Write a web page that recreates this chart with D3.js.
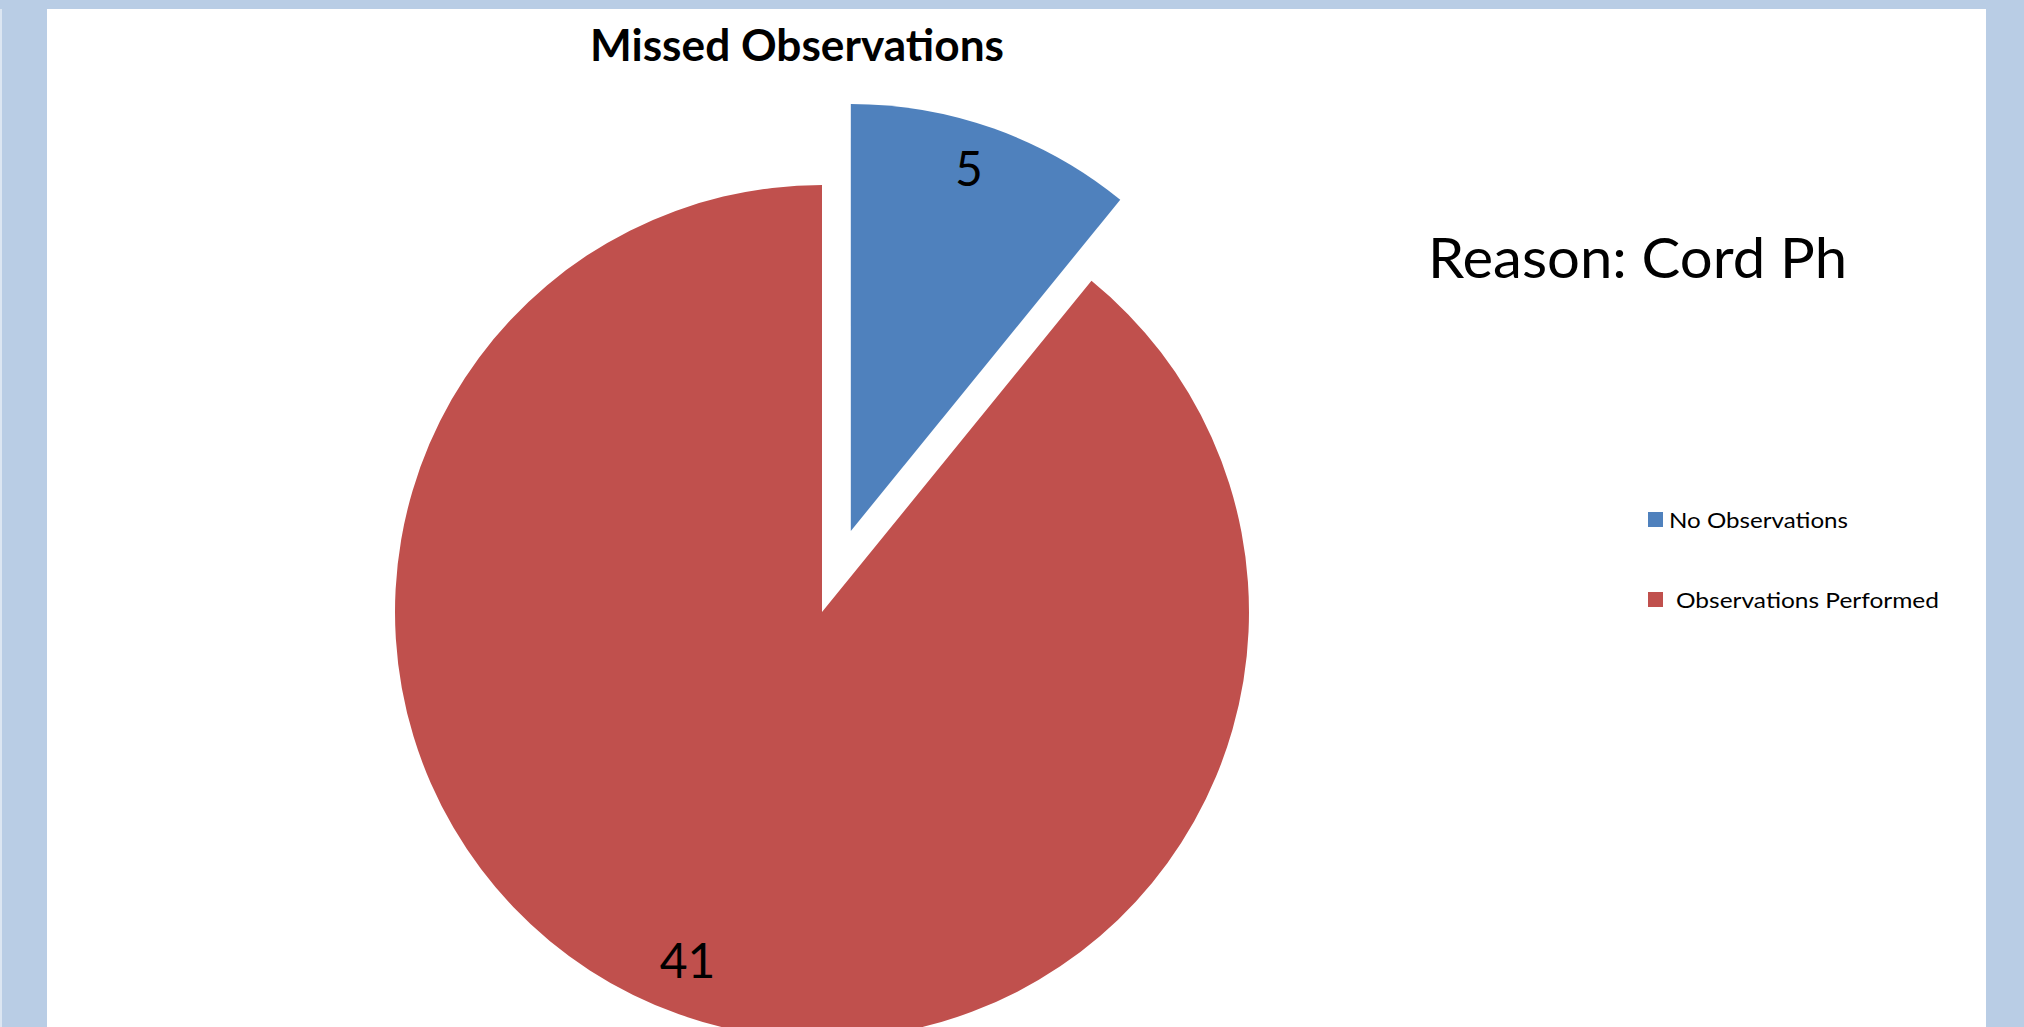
<!DOCTYPE html>
<html>
<head>
<meta charset="utf-8">
<script src="https://cdn.jsdelivr.net/npm/d3@7"></script>
<style>
  html, body { margin: 0; padding: 0; background: #B9CDE5; overflow: hidden; }
  svg { display: block; }
</style>
</head>
<body>
<svg id="chart" width="2024" height="1027"></svg>
<script>
// Chart data
const categories = ["No Observations", "Observations Performed"];
const values = [5, 41];
const sliceColors = ["#4F81BD", "#C0504D"];
const explode = [true, false];
const chartTitle = "Missed Observations";
const noteText = "Reason: Cord Ph";

const W = 2024, H = 1027;
const svg = d3.select("#chart");
const FONT = "Lato, 'Open Sans', sans-serif";

// Page frame: light blue surround with white chart area
svg.append("rect").attr("x", 0).attr("y", 0).attr("width", W).attr("height", H).attr("fill", "#B9CDE5");
svg.append("rect").attr("x", 0).attr("y", 9).attr("width", 2).attr("height", H - 9).attr("fill", "#DCE6F2");
svg.append("rect").attr("x", 47).attr("y", 9).attr("width", 1939).attr("height", H - 9).attr("fill", "#FFFFFF");

// Pie geometry
const cx = 822, cy = 612, radius = 427, explodeDist = 86;

const pie = d3.pie().sort(null).value(d => d.value);
const arcs = pie(categories.map((c, i) => ({ name: c, value: values[i], color: sliceColors[i], explode: explode[i] })));

const arcGen = d3.arc().innerRadius(0).outerRadius(radius);
const labelArc = d3.arc().innerRadius(377).outerRadius(377);

const pieG = svg.append("g").attr("transform", `translate(${cx},${cy})`);

const sliceG = pieG.selectAll("g.slice")
  .data(arcs)
  .join("g")
  .attr("class", "slice")
  .attr("transform", d => {
    if (!d.data.explode) return null;
    const mid = (d.startAngle + d.endAngle) / 2;
    return `translate(${explodeDist * Math.sin(mid)},${-explodeDist * Math.cos(mid)})`;
  });

sliceG.append("path")
  .attr("d", arcGen)
  .attr("fill", d => d.data.color);

// Data labels near the outer edge of each slice
sliceG.append("text")
  .attr("transform", d => `translate(${labelArc.centroid(d)})`)
  .attr("text-anchor", "middle")
  .attr("dx", "-0.17em")
  .attr("dy", "0.22em")
  .attr("font-family", FONT)
  .attr("font-size", 48)
  .attr("fill", "#000")
  .text(d => d.data.value);

// Title
svg.append("text")
  .attr("x", 797).attr("y", 61)
  .attr("text-anchor", "middle")
  .attr("font-family", FONT)
  .attr("font-weight", "bold")
  .attr("font-size", 43)
  .attr("textLength", 414)
  .attr("lengthAdjust", "spacingAndGlyphs")
  .attr("fill", "#000")
  .text(chartTitle);

// Side note
svg.append("text")
  .attr("x", 1428).attr("y", 278)
  .attr("font-family", FONT)
  .attr("font-size", 56)
  .attr("textLength", 419)
  .attr("lengthAdjust", "spacingAndGlyphs")
  .attr("fill", "#000")
  .text(noteText);

// Legend
const legendX = 1648, legendY0 = 512, legendStep = 80, sw = 15;
const textX = [1669, 1676];
const textW = [179, 263];
const legend = svg.append("g").selectAll("g")
  .data(categories)
  .join("g")
  .attr("transform", (d, i) => `translate(${legendX},${legendY0 + i * legendStep})`);

legend.append("rect")
  .attr("width", sw).attr("height", sw)
  .attr("fill", (d, i) => sliceColors[i]);

legend.append("text")
  .attr("x", (d, i) => textX[i] - legendX)
  .attr("y", 16)
  .attr("font-family", FONT)
  .attr("font-size", 22)
  .attr("textLength", (d, i) => textW[i])
  .attr("lengthAdjust", "spacingAndGlyphs")
  .attr("fill", "#000")
  .text(d => d);
</script>
</body>
</html>
